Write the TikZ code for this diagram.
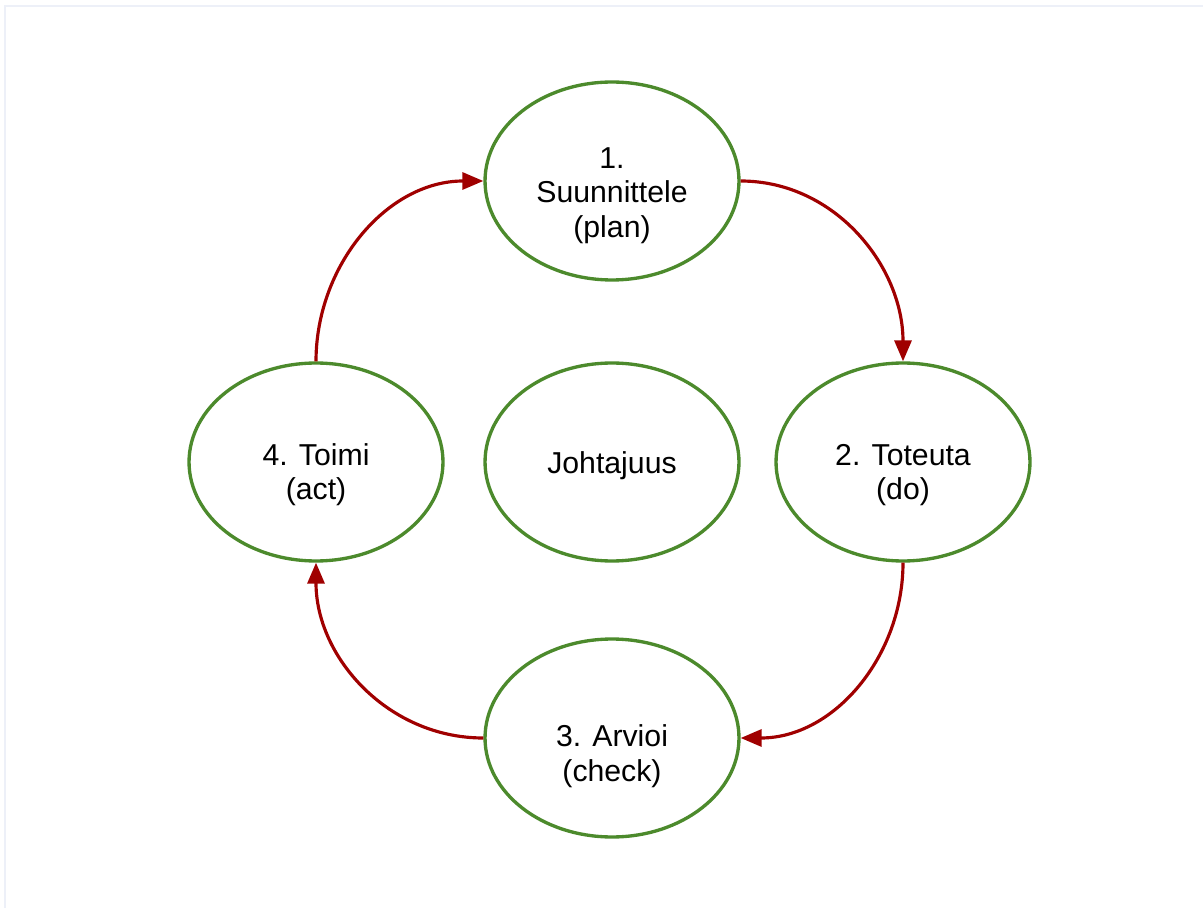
\documentclass[tikz,border=0pt]{standalone}
\usepackage{fontspec}
\setmainfont{Liberation Sans}
\usetikzlibrary{shapes.geometric,arrows.meta}
\definecolor{phasegreen}{HTML}{4C8A2C}
\definecolor{flowred}{HTML}{A00000}
\definecolor{framegray}{HTML}{EDF0F8}
% pushes the text of a phase a little down
\newcommand{\dropby}[1]{\rule{0pt}{#1}}
\begin{document}
\begin{tikzpicture}[x=0.02cm,y=-0.02cm,
phase/.style={ellipse, draw=phasegreen, line width=1.9pt, minimum width=5.08cm, minimum height=3.96cm,
              inner sep=0pt, align=center, font=\fontsize{17.2}{19.6}\selectfont},
flow/.style={draw=flowred, line width=1.8pt, -{Triangle[length=0.42cm,width=0.34cm]}}]
\useasboundingbox (0,0) rectangle (1203,908);
\draw[framegray, line width=1.5pt] (5,908) -- (5,6) -- (1203,6);
% the four phases and the centre
\node[phase] (plan)  at (612,181) {\dropby{28.5pt}1.\\Suunnittele\\(plan)};
\node[phase] (do)    at (903,462) {\dropby{27pt}2. Toteuta\\(do)};
\node[phase] (check) at (612,738) {\dropby{33pt}3. Arvioi\\(check)};
\node[phase] (act)   at (316,462) {\dropby{27pt}4. Toimi\\(act)};
\node[phase] (lead)  at (612,462) {\dropby{17pt}Johtajuus};
% the cycle
\draw[flow] (plan.east)  to[out=0,in=90]    (do.north);
\draw[flow] (do.south)   to[out=-90,in=0]   (check.east);
\draw[flow] (check.west) to[out=180,in=-90] (act.south);
\draw[flow] (act.north)  to[out=90,in=180]  (plan.west);
\end{tikzpicture}
\end{document}
